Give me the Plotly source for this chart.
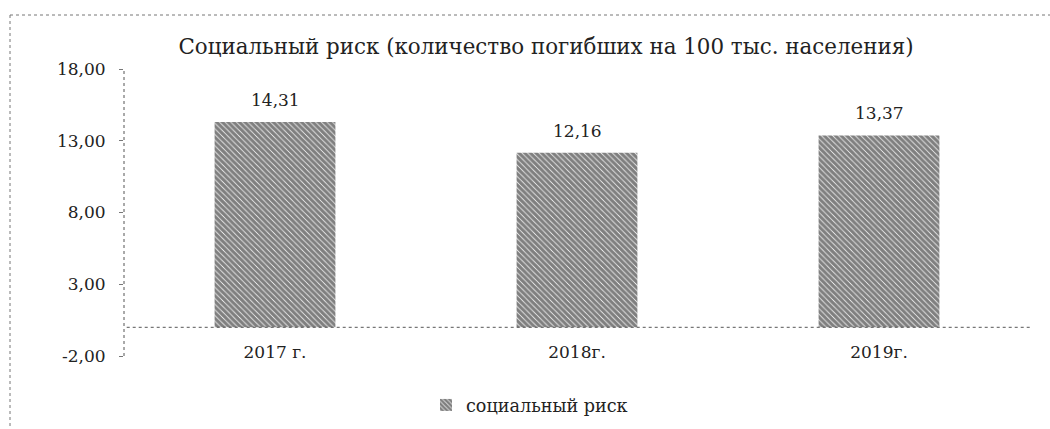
import plotly.graph_objects as go

categories = ["2017 г.", "2018г.", "2019г."]
values = [14.31, 12.16, 13.37]
value_labels = ["14,31", "12,16", "13,37"]
tick_vals = [-2, 3, 8, 13, 18]
tick_text = ["-2,00", "3,00", "8,00", "13,00", "18,00"]
series_name = "социальный риск"
title_text = "Социальный риск (количество погибших на 100 тыс. населения)"

W, H = 1050, 429
ML, MR, MT, MB = 124, 20, 69, 73
FONT = "'DejaVu Serif', 'Liberation Serif', serif"
TXT = "#222"

fig = go.Figure()
fig.add_trace(go.Bar(
    x=categories, y=values, name=series_name,
    marker=dict(color="white", line=dict(width=0),
                pattern=dict(shape="\\", fgcolor="#000", bgcolor="white",
                             size=4, solidity=0.8)),
    showlegend=True,
))

for c, v, t in zip(categories, values, value_labels):
    fig.add_annotation(x=c, y=v, text=t, showarrow=False, yanchor="middle",
                       yshift=22, font=dict(family=FONT, size=17, color=TXT))

pw = W - ML - MR
ph = H - MT - MB
# outer dotted chart border (in paper coords)
bx0 = (10 - ML) / pw
by1 = 1 + (MT - 15) / ph
fig.add_shape(type="line", xref="paper", yref="paper", x0=bx0, x1=1 + MR / pw,
              y0=by1, y1=by1, line=dict(color="#777", width=1, dash="dot"))
fig.add_shape(type="line", xref="paper", yref="paper", x0=bx0, x1=bx0,
              y0=by1, y1=-MB / ph, line=dict(color="#777", width=1, dash="dot"))
# y axis dotted line
fig.add_shape(type="line", xref="paper", yref="paper", x0=0, x1=0, y0=0, y1=1,
              line=dict(color="#555", width=1, dash="dot"))
# horizontal dotted baseline at zero
fig.add_shape(type="line", xref="paper", yref="y", x0=0.003, x1=1, y0=0, y1=0,
              line=dict(color="#555", width=1, dash="dot"))

fig.update_layout(
    width=W, height=H,
    margin=dict(l=ML, r=MR, t=MT, b=MB, autoexpand=False),
    paper_bgcolor="white", plot_bgcolor="white",
    title=dict(text=title_text, x=546 / W, xanchor="center", y=1 - 47 / H, yanchor="middle",
               xref="container", yref="container",
               font=dict(family=FONT, size=21.4, color=TXT)),
    bargap=0.6,
    showlegend=True,
    legend=dict(orientation="h", x=426 / W, xanchor="left", y=1 - 405 / H, yanchor="middle",
                xref="container", yref="container",
                font=dict(family=FONT, size=17.6, color=TXT),
                itemwidth=30),
    yaxis=dict(range=[-2, 18], tickvals=tick_vals, ticktext=tick_text,
               showgrid=False, zeroline=False, showline=False, automargin=False,
               ticks="outside", ticklen=4, tickcolor="#777", ticklabelstandoff=10,
               tickfont=dict(family=FONT, size=17, color=TXT)),
    xaxis=dict(showgrid=False, zeroline=False, showline=False, ticks="", automargin=False,
               anchor="free", position=0.055,
               tickfont=dict(family=FONT, size=17, color=TXT)),
)

fig.write_html("out.html", config={"displayModeBar": False},
               post_script="document.body.style.margin='0';document.body.style.padding='0';")
